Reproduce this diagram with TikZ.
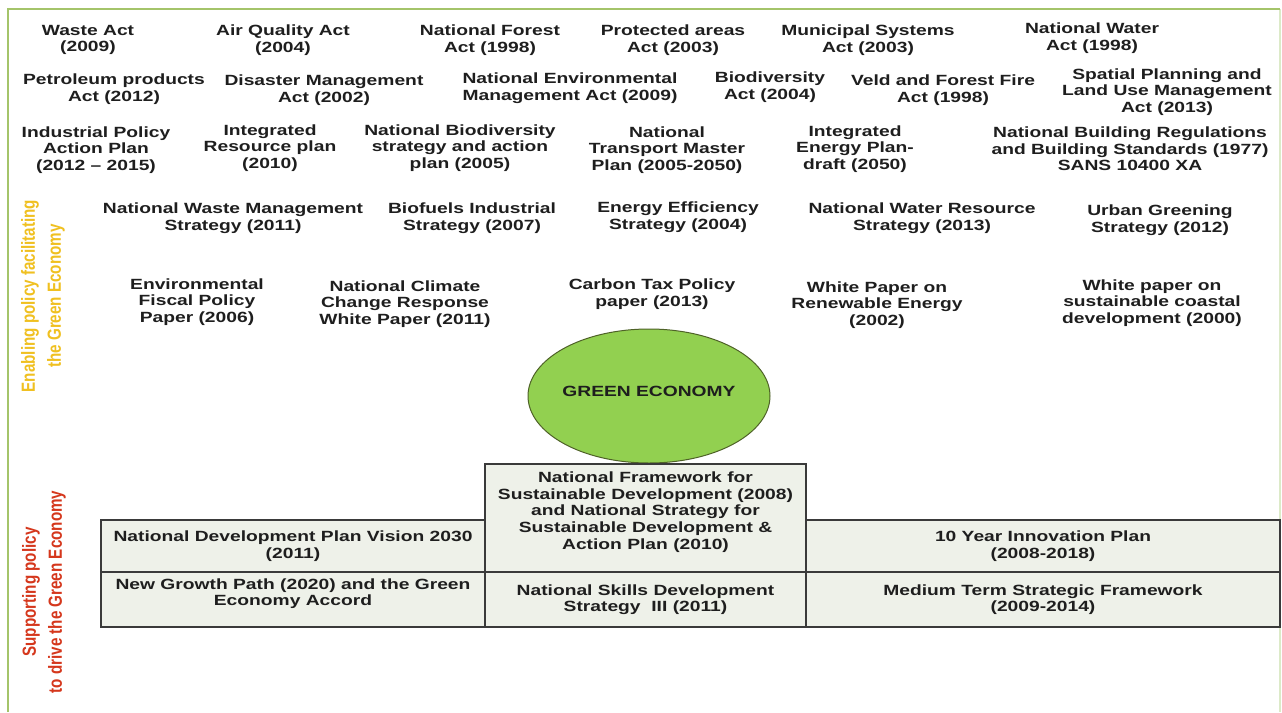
\documentclass[tikz,border=0pt]{standalone}
\usepackage{fontspec}
\setmainfont{Liberation Sans}
\newfontfamily\wfont{Liberation Sans}[FakeStretch=1.3]
\newfontfamily\nfont{Liberation Sans}[FakeStretch=0.8]
\usetikzlibrary{shapes.geometric}
\definecolor{txt}{HTML}{1E1E1E}
\definecolor{frame}{HTML}{A4C46A}
\definecolor{framelt}{HTML}{DCEAC8}
\definecolor{boxfill}{HTML}{EEF1E9}
\definecolor{boxline}{HTML}{3A3A3A}
\definecolor{ge}{HTML}{92D050}
\definecolor{geline}{HTML}{4F6228}
\definecolor{yel}{HTML}{F0C020}
\definecolor{redl}{HTML}{D5371C}
\begin{document}
\begin{tikzpicture}[x=1pt,y=-1pt,
  lbl/.style={font=\wfont\bfseries\fontsize{14.8}{16.6}\selectfont, align=center, inner sep=0pt, text=txt, yshift=-2pt},
  pbox/.style={draw=boxline, line width=1.6pt, fill=boxfill, inner sep=0pt, font=\wfont\bfseries\fontsize{14.8}{16.6}\selectfont, align=center, text=txt},
  side/.style={font=\nfont\bfseries\fontsize{19}{26}\selectfont, align=center, inner sep=0pt, rotate=90}
]
\useasboundingbox (0,0) rectangle (1282,712);
\fill[white] (0,0) rectangle (1282,712);
% frame
\coordinate (fbl) at (8,712);
\coordinate (ftl) at (8,9);
\coordinate (ftr) at (1280,9);
\coordinate (fbr) at (1280,712);
\draw[framelt, line width=1.5pt] (ftr) -- (fbr);
\draw[frame, line width=2.5pt] (fbl) -- (ftl) -- (ftr);

% row 1
\node[lbl] (r1a) at (88,38) {Waste Act\\(2009)};
\node[lbl] (r1b) at (283,38) {Air Quality Act\\(2004)};
\node[lbl] (r1c) at (490,38) {National Forest\\Act (1998)};
\node[lbl] (r1d) at (673,38) {Protected areas\\Act (2003)};
\node[lbl] (r1e) at (868,38) {Municipal Systems\\Act (2003)};
\node[lbl] (r1f) at (1092,36) {National Water\\Act (1998)};
% row 2
\node[lbl] (r2a) at (114,87) {Petroleum products\\Act (2012)};
\node[lbl] (r2b) at (324,88) {Disaster Management\\Act (2002)};
\node[lbl] (r2c) at (570,86) {National Environmental\\Management Act (2009)};
\node[lbl] (r2d) at (770,85) {Biodiversity\\Act (2004)};
\node[lbl] (r2e) at (943,88) {Veld and Forest Fire\\Act (1998)};
\node[lbl] (r2f) at (1167,90) {Spatial Planning and\\Land Use Management\\Act (2013)};
% row 3
\node[lbl] (r3a) at (96,148) {Industrial Policy\\Action Plan\\(2012 – 2015)};
\node[lbl] (r3b) at (270,146) {Integrated\\Resource plan\\(2010)};
\node[lbl] (r3c) at (460,146) {National Biodiversity\\strategy and action\\plan (2005)};
\node[lbl] (r3d) at (667,148) {National\\Transport Master\\Plan (2005-2050)};
\node[lbl] (r3e) at (855,147) {Integrated\\Energy Plan-\\draft (2050)};
\node[lbl] (r3f) at (1130,147) {National Building Regulations\\and Building Standards (1977)\\SANS 10400 XA};
% row 4
\node[lbl] (r4a) at (233,216) {National Waste Management\\Strategy (2011)};
\node[lbl] (r4b) at (472,216) {Biofuels Industrial\\Strategy (2007)};
\node[lbl] (r4c) at (678,215) {Energy Efficiency\\Strategy (2004)};
\node[lbl] (r4d) at (922,216) {National Water Resource\\Strategy (2013)};
\node[lbl] (r4e) at (1160,218) {Urban Greening\\Strategy (2012)};
% row 5
\node[lbl] (r5a) at (197,300) {Environmental\\Fiscal Policy\\Paper (2006)};
\node[lbl] (r5b) at (405,302) {National Climate\\Change Response\\White Paper (2011)};
\node[lbl] (r5c) at (652,292) {Carbon Tax Policy\\paper (2013)};
\node[lbl] (r5d) at (877,303) {White Paper on\\Renewable Energy\\(2002)};
\node[lbl] (r5e) at (1152,301) {White paper on\\sustainable coastal\\development (2000)};

% green economy
\node[ellipse, draw=geline, line width=1pt, fill=ge, minimum width=242, minimum height=134, inner sep=0pt] (geo) at (649,396) {};
\node[lbl] (get) at (649,389) {GREEN ECONOMY};

% supporting boxes
\node[pbox, minimum width=321, minimum height=108] (nf) at (645.5,518) {};
\node[lbl] (nft) at ([yshift=8pt]nf.center) {National Framework for\\Sustainable Development (2008)\\and National Strategy for\\Sustainable Development \&\\Action Plan (2010)};
\node[pbox, minimum width=321, minimum height=55] (nsds) at (645.5,599.5) {National Skills Development\\Strategy\ \ III (2011)};
\node[pbox, minimum width=384, minimum height=52] (ndp) at (293,546) {National Development Plan Vision 2030\\(2011)};
\node[pbox, minimum width=384, minimum height=55] (ngp) at (293,599.5) {};
\node[lbl] (ngpt) at ([yshift=8pt]ngp.center) {New Growth Path (2020) and the Green\\Economy Accord};
\node[pbox, minimum width=474, minimum height=52] (typ) at (1043,546) {10 Year Innovation Plan\\(2008-2018)};
\node[pbox, minimum width=474, minimum height=55] (mtsf) at (1043,599.5) {Medium Term Strategic Framework\\(2009-2014)};

% side labels
\node[side, text=yel] (enab) at (43,296) {Enabling policy facilitating\\the Green Economy};
\node[side, text=redl] (supp) at (44,592) {Supporting policy\\to drive the Green Economy};
\end{tikzpicture}
\end{document}
